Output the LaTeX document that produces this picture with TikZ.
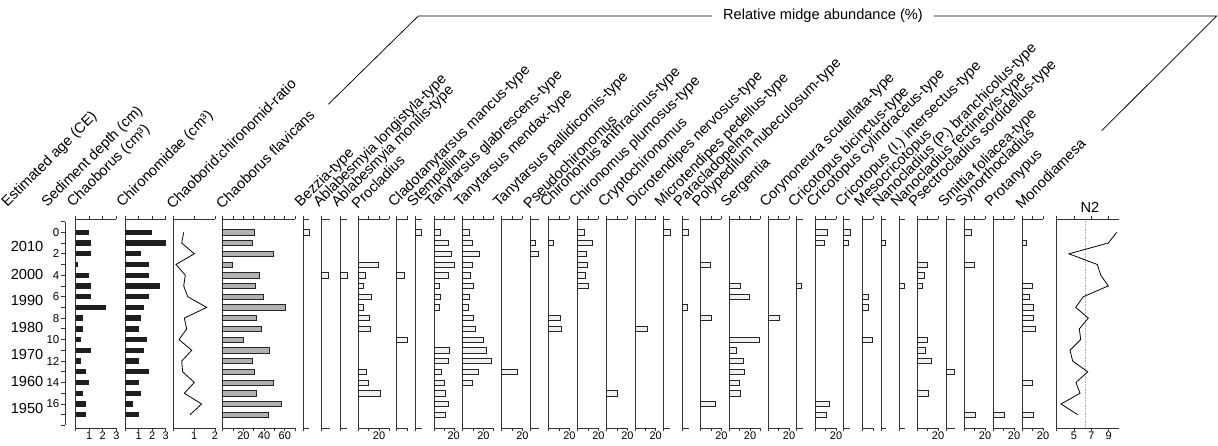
\documentclass[tikz,border=0pt]{standalone}
\usepackage{fontspec}
\setmainfont{Liberation Sans}
\newcommand\PanelAx[3]{%
  \draw[axl] (#1,219) -- (#1,428.3);
  \draw[axl] (#1,219) -- ++(#2,0);
  \draw[axl] (#1,428.3) -- ++(#2,0);
  \foreach \t in {#3}{\draw[axl] (#1+\t,219) -- ++(0,-2.6); \draw[axl] (#1+\t,428.3) -- ++(0,2.6);}%
}
\newcommand\Bars[3]{%
  \foreach \d/\v in {#3}{\path[#1] (#2,{232.3+10.73*\d-2.65}) rectangle ++(\v,5.3);}%
}
\begin{document}
\begin{tikzpicture}[x=1pt,y=-1pt,
  axl/.style={draw=black!80,line width=0.75pt},
  hdr/.style={rotate=45,anchor=south west,inner sep=0pt,font=\fontsize{14.6}{16}\selectfont},
  tkl/.style={anchor=north,inner sep=0pt,font=\fontsize{11}{12}\selectfont},
  agel/.style={anchor=east,inner sep=0pt,font=\fontsize{14.6}{16}\selectfont},
  dpl/.style={anchor=east,inner sep=0pt,font=\fontsize{11.5}{13}\selectfont},
  barB/.style={fill=black!88},
  barG/.style={fill=gray!60,draw=black!85,line width=0.6pt},
  barL/.style={fill=gray!12,draw=black!85,line width=0.6pt},
  curve/.style={draw=black,line width=0.8pt,line join=miter}
]
\useasboundingbox (0,0) rectangle (1218,446);

% ---------- bracket: relative midge abundance ----------
\node[inner xsep=11pt,inner ysep=0pt,font=\fontsize{14.6}{16}\selectfont] (rma) at (823,16) {Relative midge abundance (\%)};
\coordinate (b1) at (328.3,104.3);
\coordinate (b2) at (418.3,16);
\coordinate (b3) at (1216.7,16);
\coordinate (b4) at (1101.7,130.7);
\draw[line width=0.75pt] (b1) -- (b2) -- (rma.west);
\draw[line width=0.75pt] (rma.east) -- (b3) -- (b4);

% ---------- headers ----------
\node[hdr] (h0) at (9.5,210) {Estimated age (CE)};
\node[hdr] (h1) at (49.5,210) {Sediment depth (cm)};
\node[hdr] (h2) at (75,210) {Chaoborus (cm³)};
\node[hdr] (h3) at (124.5,210) {Chironomidae (cm³)};
\node[hdr] (h4) at (172.8,210) {Chaoborid:chironomid-ratio};
\node[hdr] (h5) at (222.2,210) {Chaoborus flavicans};
\node[hdr] (s1) at (302.8,210) {Bezzia-type};
\node[hdr] (s2) at (321.2,210) {Ablabesmyia longistyla-type};
\node[hdr] (s3) at (339.5,210) {Ablabesmyia monilis-type};
\node[hdr] (s4) at (357.8,210) {Procladius};
\node[hdr] (s5) at (396.2,210) {Cladotanytarsus mancus-type};
\node[hdr] (s6) at (415.2,210) {Stempellina};
\node[hdr] (s7) at (433.5,210) {Tanytarsus glabrescens-type};
\node[hdr] (s8) at (462.2,210) {Tanytarsus mendax-type};
\node[hdr] (s9) at (501.2,210) {Tanytarsus pallidicornis-type};
\node[hdr] (s10) at (529.5,210) {Pseudochironomus};
\node[hdr] (s11) at (548.2,210) {Chironomus anthracinus-type};
\node[hdr] (s12) at (577.2,210) {Chironomus plumosus-type};
\node[hdr] (s13) at (606.2,210) {Cryptochironomus};
\node[hdr] (s14) at (634.5,210) {Dicrotendipes nervosus-type};
\node[hdr] (s15) at (662.8,210) {Microtendipes pedellus-type};
\node[hdr] (s16) at (681.8,210) {Paracladopelma};
\node[hdr] (s17) at (700.2,210) {Polypedilum nubeculosum-type};
\node[hdr] (s18) at (728.8,210) {Sergentia};
\node[hdr] (s19) at (767.8,210) {Corynoneura scutellata-type};
\node[hdr] (s20) at (796.2,210) {Cricotopus bicinctus-type};
\node[hdr] (s21) at (814.8,210) {Cricotopus cylindraceus-type};
\node[hdr] (s22) at (843.2,210) {Cricotopus (I.) intersectus-type};
\node[hdr] (s23) at (862.2,210) {Mesocricotopus};
\node[hdr] (s24) at (880.5,210) {Nanocladius (P.) branchicolus-type};
\node[hdr] (s25) at (898.8,210) {Nanocladius rectinervis-type};
\node[hdr] (s26) at (916.8,210) {Psectrocladius sordidellus-type};
\node[hdr] (s27) at (946.2,210) {Smittia foliacea-type};
\node[hdr] (s28) at (963.8,210) {Synorthocladius};
\node[hdr] (s29) at (992.8,210) {Protanypus};
\node[hdr] (s30) at (1021.8,210) {Monodiamesa};
\node[anchor=south,inner sep=0pt,font=\fontsize{14.6}{16}\selectfont] (hn2) at (1090,213) {N2};

% ---------- age labels ----------
\foreach \a/\y in {2010/246.7,2000/274,1990/300.5,1980/327.7,1970/354.5,1960/381.7,1950/408.3}
  \node[agel] (age\a) at (43.5,\y) {\a};

% ---------- depth axis ----------
\draw[axl] (65,221.6) -- (65,425.4);
\foreach \d in {-1,0,...,18}{\draw[axl] (65,{232.3+10.73*\d}) -- ++(-3.8,0);}
\foreach \d in {0,2,...,16}{\node[dpl] (dep\d) at (59.5,{232.3+10.73*\d}) {\d};}

% ---------- Chaoborus ----------
\PanelAx{75.7}{40.7}{0,13.57,27.13,40.7}
\Bars{barB}{75.7}{0/13,1/15.7,2/15.7,3/2.3,4/13.3,5/15.7,6/15.7,7/30,8/7.7,9/7.7,10/5,11/15.7,12/5,13/10.3,14/13,15/7.7,16/10.3,17/10.3}
\node[tkl] (c1) at (89.3,432) {1};
\node[tkl] (c2) at (102.8,432) {2};
\node[tkl] (c3) at (116.4,432) {3};

% ---------- Chironomidae ----------
\PanelAx{125}{40.7}{0,13.57,27.13,40.7}
\Bars{barB}{125}{0/27,1/40.7,2/16,3/24,4/24,5/35,6/24,7/18.7,8/16,9/13.7,10/21.7,11/18.7,12/13.7,13/24,14/13.7,15/16,16/8,17/13.7}
\node[tkl] (r1) at (138.6,432) {1};
\node[tkl] (r2) at (152.1,432) {2};
\node[tkl] (r3) at (165.7,432) {3};

% ---------- ratio ----------
\PanelAx{173.3}{41.7}{0,20.85,41.7}
\draw[curve] plot coordinates {(183.7,232.3) (181.7,243.0) (194.3,253.8) (176,264.5) (185.3,275.2) (183.7,285.9) (187.7,296.7) (206.7,307.4) (184.3,318.1) (186.7,328.9) (179,339.6) (191.7,350.3) (181.7,361.1) (182.7,371.8) (194.3,382.5) (184.3,393.3) (201.7,404.0) (190,414.7)};
\node[tkl] (q1) at (194.2,432) {1};
\node[tkl] (q2) at (215,432) {2};

% ---------- Chaoborus flavicans ----------
\PanelAx{222.7}{72.45}{0,10.35,20.7,31.05,41.4,51.75,62.1,72.45}
\Bars{barG}{222.7}{0/31.7,1/29.3,2/50.7,3/9.7,4/36.3,5/32.7,6/40.7,7/62.3,8/34,9/38.3,10/20.7,11/46.7,12/29.3,13/31.3,14/50.7,15/34,16/58.3,17/45.3}
\node[tkl] (f20) at (243.4,432) {20};
\node[tkl] (f40) at (264.1,432) {40};
\node[tkl] (f60) at (284.8,432) {60};

% ---------- taxa ----------
\PanelAx{303.3}{6}{0}
\Bars{barL}{303.3}{0/5.7}
\PanelAx{321.7}{8}{0}
\Bars{barL}{321.7}{4/7}
\PanelAx{340}{7.3}{0}
\Bars{barL}{340}{4/7}
\PanelAx{358.3}{31.05}{0,10.35,20.7,31.05}
\Bars{barL}{358.3}{3/20,4/7.3,5/5,6/13.3,7/5,8/11,9/12.3,13/7.7,14/10.3,15/22}
\PanelAx{396.7}{11}{0,10.35}
\Bars{barL}{396.7}{4/7.7,10/10.7}
\PanelAx{415.7}{6.5}{0}
\Bars{barL}{415.7}{0/6}
\PanelAx{434}{20.7}{0,10.35,20.7}
\Bars{barL}{434}{0/6.3,1/14.3,2/17,3/20.3,4/14.3,5/5.3,6/6.7,7/5.3,11/15.3,12/14.3,13/7.7,14/10,15/11,16/14.3,17/11}
\PanelAx{462.7}{31.05}{0,10.35,20.7,31.05}
\Bars{barL}{462.7}{0/6.3,1/9.7,2/17,3/10,4/7.7,5/10.7,6/7,7/6,8/11,9/13,10/20.3,11/24,12/29,13/15.7,14/10}
\PanelAx{501.7}{20.7}{0,10.35,20.7}
\Bars{barL}{501.7}{13/16}
\PanelAx{530}{9}{0}
\Bars{barL}{530}{1/5.3,2/8.7}
\PanelAx{548.7}{20.7}{0,10.35,20.7}
\Bars{barL}{548.7}{1/5,8/11.3,9/13}
\PanelAx{577.7}{20.7}{0,10.35,20.7}
\Bars{barL}{577.7}{0/6.3,1/14.3,2/8.3,3/9.6,4/7.3,5/10.6}
\PanelAx{606.7}{20.7}{0,10.35,20.7}
\Bars{barL}{606.7}{15/10.7}
\PanelAx{635}{20.7}{0,10.35,20.7}
\Bars{barL}{635}{9/12.7}
\PanelAx{663.3}{7}{0}
\Bars{barL}{663.3}{0/6.7}
\PanelAx{682.3}{6.5}{0}
\Bars{barL}{682.3}{0/6,7/5.3}
\PanelAx{700.7}{20.7}{0,10.35,20.7}
\Bars{barL}{700.7}{3/9.7,8/11,16/14.3}
\PanelAx{729.3}{31.05}{0,10.35,20.7,31.05}
\Bars{barL}{729.3}{5/10.7,6/20,10/30.3,11/7.3,12/14.3,13/15.3,14/10,15/11.3}
\PanelAx{768.3}{20.7}{0,10.35,20.7}
\Bars{barL}{768.3}{8/10.7}
\PanelAx{796.7}{6}{0}
\Bars{barL}{796.7}{5/5}
\PanelAx{815.3}{20.7}{0,10.35,20.7}
\Bars{barL}{815.3}{0/12.3,1/9,16/14,17/11}
\PanelAx{843.7}{6.5}{0}
\Bars{barL}{843.7}{0/6.3,1/4.7}
\PanelAx{862.7}{10.35}{0,10.35}
\Bars{barL}{862.7}{6/6,7/5.3,10/10}
\PanelAx{881}{5}{0}
\Bars{barL}{881}{1/4.3}
\PanelAx{899.3}{5.5}{0}
\Bars{barL}{899.3}{5/5}
\PanelAx{917.3}{20.7}{0,10.35,20.7}
\Bars{barL}{917.3}{3/10,4/7.3,5/5.3,10/10,11/8,12/14.3,15/11}
\PanelAx{946.7}{8}{0}
\Bars{barL}{946.7}{13/7.7}
\PanelAx{964.3}{20.7}{0,10.35,20.7}
\Bars{barL}{964.3}{0/6.7,3/10.3,17/11.3}
\PanelAx{993.3}{20.7}{0,10.35,20.7}
\Bars{barL}{993.3}{17/11}
\PanelAx{1022.3}{20.7}{0,10.35,20.7}
\Bars{barL}{1022.3}{1/4.3,5/10.3,6/6.7,7/11,8/11,9/12.7,14/10,17/11}

% "20" labels
\foreach \x [count=\i] in {379,453.7,483.4,522.4,569.4,598.4,627.4,655.7,721.4,750,789,836,938,985,1014,1043}
  \node[tkl] (pl\i) at (\x,432) {20};

% ---------- N2 ----------
\draw[gray!60,line width=0.6pt,densely dotted] (1085,219) -- (1085,428.3);
\PanelAx{1056.7}{62.3}{0,17.33,34.67,52}
\draw[curve] plot coordinates {(1116.7,232.3) (1108.3,243.0) (1069,253.8) (1097.3,264.5) (1100.7,275.2) (1108.3,285.9) (1083.3,296.7) (1075.7,307.4) (1088.3,318.1) (1079.3,328.9) (1080.7,339.6) (1070,350.3) (1072.7,361.1) (1087.7,371.8) (1076,382.5) (1080,393.3) (1061,404.0) (1077.7,414.7)};
\node[tkl] (n5) at (1074,432) {5};
\node[tkl] (n7) at (1091.4,432) {7};
\node[tkl] (n9) at (1108.7,432) {9};
\end{tikzpicture}
\end{document}
